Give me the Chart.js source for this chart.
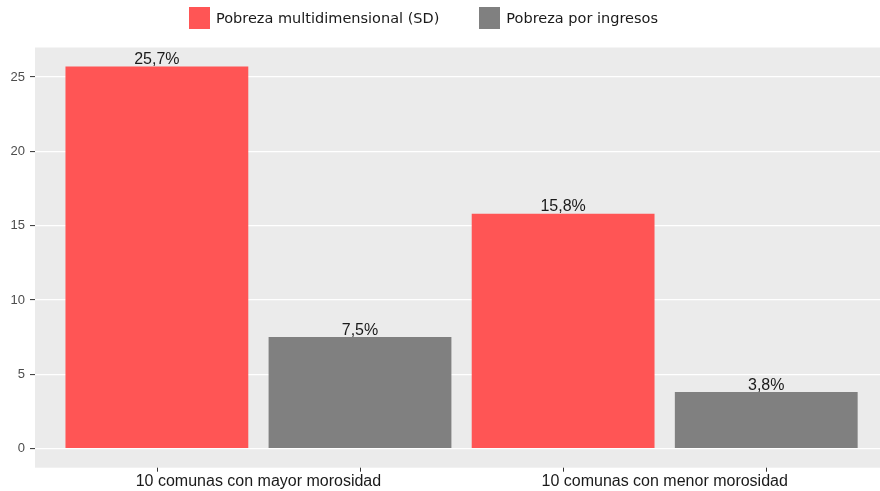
<!DOCTYPE html>
<html>
<head>
<meta charset="utf-8">
<script src="https://cdn.jsdelivr.net/npm/chart.js@4"></script>
<style>
  body { margin: 0; background: #fff; overflow: hidden; }
  #wrap { position: relative; width: 880px; height: 491px; }
  #legend { position: absolute; top: 7px; left: 189px; display: flex; font: 14.5px "DejaVu Sans", sans-serif; color: #1a1a1a; }
  #legend .item { display: flex; align-items: center; margin-right: 40px; }
  #legend .box { width: 21px; height: 22px; margin-right: 6px; }
</style>
</head>
<body>
<div id="wrap">
  <canvas id="myChart" width="880" height="491"></canvas>
  <div id="legend"></div>
</div>
<script>
var categories = ['10 comunas con mayor morosidad', '10 comunas con menor morosidad'];
var seriesNames = ['Pobreza multidimensional (SD)', 'Pobreza por ingresos'];
var multidim = [25.7, 15.8];
var ingresos = [7.5, 3.8];
var yTicks = [0, 5, 10, 15, 20, 25];
var colors = ['#FF5555', '#808080'];

function toPoints(arr) {
    return arr.map(function (v, i) { return { x: i + 1, y: v }; });
}

// fondo gris del panel
var panelBg = {
    id: 'panelBg',
    beforeDraw: function (chart) {
        var a = chart.chartArea, ctx = chart.ctx;
        ctx.save();
        ctx.fillStyle = '#EBEBEB';
        ctx.fillRect(a.left, a.top, a.right - a.left, a.bottom - a.top);
        ctx.restore();
    }
};

// etiquetas sobre las barras + marcas del eje x
var barLabels = {
    id: 'barLabels',
    afterDatasetsDraw: function (chart) {
        var ctx = chart.ctx, a = chart.chartArea;
        ctx.save();
        ctx.font = '16px "Liberation Sans", Arial, sans-serif';
        ctx.fillStyle = '#1a1a1a';
        ctx.textAlign = 'center';
        ctx.textBaseline = 'alphabetic';
        chart.data.datasets.forEach(function (ds, di) {
            chart.getDatasetMeta(di).data.forEach(function (bar, i) {
                var txt = ds.data[i].y.toFixed(1).replace('.', ',') + '%';
                ctx.fillText(txt, bar.x, bar.y - 2.5);
                ctx.strokeStyle = '#333';
                ctx.lineWidth = 1;
                ctx.beginPath();
                ctx.moveTo(Math.round(bar.x) + 0.5, a.bottom);
                ctx.lineTo(Math.round(bar.x) + 0.5, a.bottom + 4);
                ctx.stroke();
            });
        });
        ctx.restore();
    }
};

var chartArea = document.getElementById('myChart').getContext('2d');

var myChart = new Chart(chartArea, {
    type: 'bar',
    data: {
        datasets: [{
            label: seriesNames[0],
            data: toPoints(multidim),
            backgroundColor: colors[0]
        }, {
            label: seriesNames[1],
            data: toPoints(ingresos),
            backgroundColor: colors[1]
        }]
    },
    options: {
        responsive: false,
        animation: false,
        layout: { padding: { top: 47.5, left: 0, right: 0, bottom: 0 } },
        datasets: {
            bar: { categoryPercentage: 1.0, barPercentage: 0.9 }
        },
        plugins: {
            legend: { display: false },
            tooltip: { enabled: false }
        },
        scales: {
            x: {
                type: 'linear',
                offset: false,
                min: 0.45,
                max: 2.53,
                grid: { display: false, drawTicks: false, tickLength: 0 },
                border: { display: false },
                afterBuildTicks: function (s) {
                    s.ticks = categories.map(function (c, i) { return { value: i + 1 }; });
                },
                afterFit: function (s) { s.height = 23.3; },
                ticks: {
                    padding: 4,
                    color: '#1a1a1a',
                    font: { family: '"Liberation Sans", Arial, sans-serif', size: 16 },
                    callback: function (v) { return categories[v - 1]; }
                }
            },
            y: {
                min: -1.285,
                max: 26.985,
                afterBuildTicks: function (s) {
                    s.ticks = yTicks.map(function (v) { return { value: v }; });
                },
                afterFit: function (s) { s.width = 35; },
                border: { display: false },
                grid: {
                    color: '#FFFFFF',
                    lineWidth: 1.2,
                    tickColor: '#333333',
                    tickLength: 5,
                    tickWidth: 1
                },
                ticks: {
                    padding: 5,
                    color: '#4d4d4d',
                    font: { family: '"Liberation Sans", Arial, sans-serif', size: 13 }
                }
            }
        }
    },
    plugins: [panelBg, barLabels]
});

// leyenda arriba
seriesNames.forEach(function (name, i) {
    var item = document.createElement('div');
    item.className = 'item';
    var box = document.createElement('span');
    box.className = 'box';
    box.style.background = colors[i];
    var txt = document.createElement('span');
    txt.textContent = name;
    item.appendChild(box);
    item.appendChild(txt);
    document.getElementById('legend').appendChild(item);
});
</script>
</body>
</html>
